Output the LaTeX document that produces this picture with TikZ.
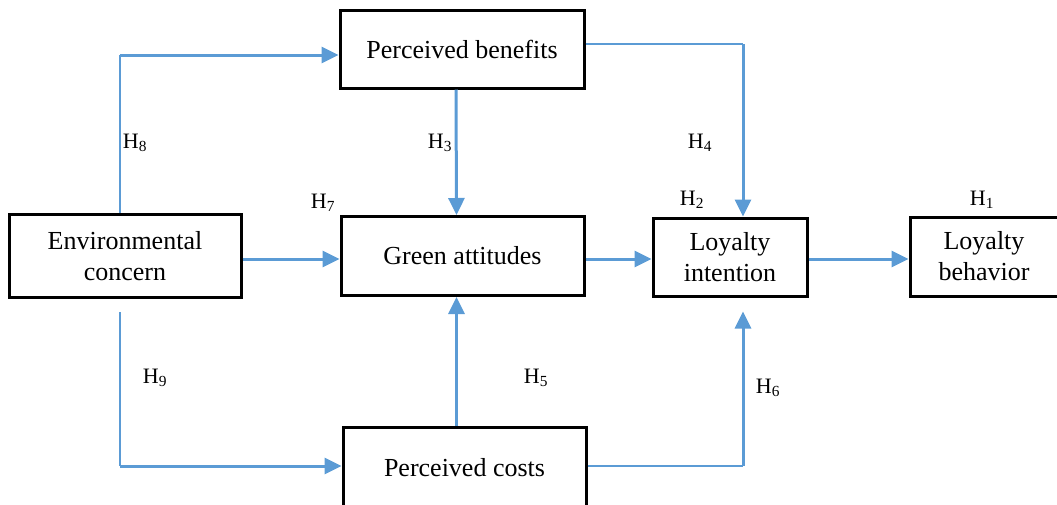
\documentclass[tikz,border=0pt]{standalone}
\usepackage{fontspec}
\setmainfont{Liberation Serif}
\usepackage{tikz}
\usetikzlibrary{arrows.meta,calc,positioning}
\definecolor{linkblue}{RGB}{91,155,213}

\begin{document}
\begin{tikzpicture}[x=1pt,y=-1pt,font=\fontsize{26}{31}\selectfont,
    box/.style={draw,line width=3pt,align=center,inner sep=0pt},
    arr/.style={draw=linkblue,line width=3pt,-{Triangle[length=17pt,width=16pt]}},
    thin/.style={draw=linkblue,line width=1.6pt},
    hyp/.style={font=\fontsize{22}{24}\selectfont,inner sep=0pt}]
        \useasboundingbox (0,0) rectangle (1057,504);
        % constructs
        \node[box,minimum width=244,minimum height=78] (pb) at (462,49) {Perceived benefits};
        \node[box,minimum width=232,minimum height=83] (ec) at (125,256) {Environmental\\concern};
        \node[box,minimum width=243,minimum height=79] (ga) at (462.5,256) {Green attitudes};
        \node[box,minimum width=154,minimum height=78] (li) at (730,257) {Loyalty\\intention};
        \node[box,minimum width=148,minimum height=79] (lb) at (984,256.5) {Loyalty\\behavior};
        \node[box,minimum width=243,minimum height=82] (pc) at (464.5,468) {Perceived costs};
        % corners of the bent links
        \coordinate (c8) at (120,55);
        \coordinate (c9) at (120,466);
        \coordinate (c4) at (743,44);
        \coordinate (c6) at (743,466);
        % links
        \draw[thin] ([xshift=-5]ec.north) -- (c8);
        \draw[arr] (c8) -- (c8 -| pb.west);
        \draw[thin] ([xshift=-5,yshift=-13]ec.south) -- (c9);
        \draw[arr] (c9) -- (c9 -| pc.west);
        \draw[arr] (ec.east |- 0,259) -- (ga.west |- 0,259);
        \draw[arr] ([xshift=-6]pb.south) -- ([xshift=-6]ga.north);
        \draw[thin] (pb.east |- c4) -- (c4);
        \draw[arr] (c4) -- (c4 |- li.north);
        \draw[arr] (ga.east |- 0,259) -- (li.west |- 0,259);
        \draw[arr] (li.east |- 0,259) -- (lb.west |- 0,259);
        \draw[arr] ([xshift=-8]pc.north) -- ([xshift=-6]ga.south);
        \draw[thin] (pc.east |- c6) -- (c6);
        \draw[arr] (c6) -- ([yshift=-14]c6 |- li.south);
        % hypotheses
        \node[hyp] (h8) at (135,143) {H\textsubscript{8}};
        \node[hyp] (h3) at (440,143) {H\textsubscript{3}};
        \node[hyp] (h4) at (700,143) {H\textsubscript{4}};
        \node[hyp] (h7) at (323,203) {H\textsubscript{7}};
        \node[hyp] (h2) at (692,200) {H\textsubscript{2}};
        \node[hyp] (h1) at (982,200) {H\textsubscript{1}};
        \node[hyp] (h9) at (155,378) {H\textsubscript{9}};
        \node[hyp] (h5) at (536,378) {H\textsubscript{5}};
        \node[hyp] (h6) at (768,388) {H\textsubscript{6}};
      \end{tikzpicture}
\end{document}
